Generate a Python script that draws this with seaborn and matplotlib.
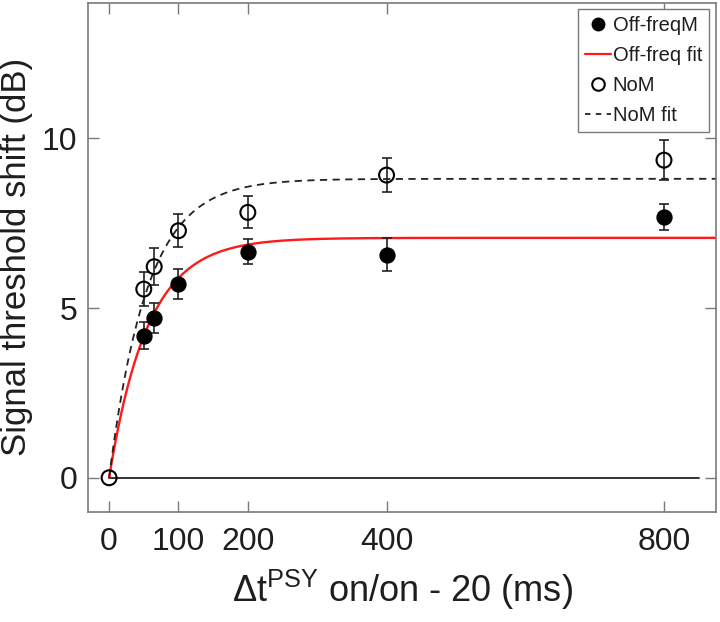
import numpy as np
import pandas as pd
import matplotlib
matplotlib.use("Agg")
import matplotlib.pyplot as plt
import seaborn as sns
from matplotlib.lines import Line2D

# ---- data ----
off_x = [50, 65, 100, 200, 400, 800]
off_y = [4.19, 4.71, 5.71, 6.66, 6.57, 7.69]
off_err = [0.41, 0.43, 0.43, 0.37, 0.49, 0.38]

nom_x = [0, 50, 65, 100, 200, 400, 800]
nom_y = [0.0, 5.56, 6.22, 7.28, 7.82, 8.92, 9.36]
nom_err = [0.0, 0.51, 0.54, 0.48, 0.47, 0.51, 0.58]

# exponential fit parameters (plateau in dB, time constant in ms)
fit_names = ["Off-freq fit", "NoM fit"]
fit_plateau = [7.07, 8.81]
fit_tau = [56.0, 55.0]

zero_line_x = [0, 850]
zero_line_y = [0, 0]

x_ticks = [0, 100, 200, 400, 800]
y_ticks = [0, 5, 10]

sns.set_theme(style="ticks")
plt.rcParams["font.family"] = ["Liberation Sans", "DejaVu Sans"]
plt.rcParams["mathtext.fontset"] = "custom"
plt.rcParams["mathtext.rm"] = "Liberation Sans"

fig = plt.figure(figsize=(7.2, 6.22), dpi=100)
ax = fig.add_axes([88.3 / 720, (622 - 511.7) / 622, (716 - 88.3) / 720, (511.7 - 2.7) / 622])

# zero line
sns.lineplot(x=zero_line_x, y=zero_line_y, ax=ax, color="#222222", lw=1.3, zorder=1)

# fit curves
xs = np.linspace(0, 880, 600)
fit_rows = []
for name, a, tau in zip(fit_names, fit_plateau, fit_tau):
    fit_rows.append(pd.DataFrame({"x": xs, "y": a * (1 - np.exp(-xs / tau)), "fit": name}))
fits = pd.concat(fit_rows)
sns.lineplot(data=fits[fits.fit == "Off-freq fit"], x="x", y="y", ax=ax,
             color="#ff1a1a", lw=1.7, zorder=2, legend=False)
sns.lineplot(data=fits[fits.fit == "NoM fit"], x="x", y="y", ax=ax,
             color="#222222", lw=1.3, zorder=2, legend=False,
             linestyle=(0, (4, 3)))

# error bars
ax.errorbar(off_x, off_y, yerr=off_err, fmt="none", ecolor="#222222",
            elinewidth=1.2, capsize=3.5, capthick=1.2, zorder=3)
nx = [x for x, e in zip(nom_x, nom_err) if e > 0]
ny = [y for y, e in zip(nom_y, nom_err) if e > 0]
ne = [e for e in nom_err if e > 0]
ax.errorbar(nx, ny, yerr=ne, fmt="none", ecolor="#222222",
            elinewidth=1.2, capsize=3.5, capthick=1.2, zorder=3)

# points
sns.scatterplot(x=off_x, y=off_y, ax=ax, marker="o", s=115, color="black",
                edgecolor="black", linewidth=1.0, zorder=4)
sns.scatterplot(x=nom_x, y=nom_y, ax=ax, marker="o", s=115, facecolor="none",
                edgecolor="black", linewidth=1.5, zorder=4)

ax.set_xlim(-30, 875)
ax.set_ylim(-1, 14)
ax.set_xticks(x_ticks)
ax.set_yticks(y_ticks)
ax.set_xticklabels([str(v) for v in x_ticks])
ax.set_yticklabels([str(v) for v in y_ticks])

spine_col = "#7a7a7a"
for s in ax.spines.values():
    s.set_visible(True)
    s.set_color(spine_col)
    s.set_linewidth(1.2)
ax.tick_params(axis="both", direction="in", length=8, width=1.0, color=spine_col,
               labelsize=23, labelcolor="#1e1e1e", pad=8,
               top=True, right=True)
ax.tick_params(axis="x", pad=11)

ax.set_xlabel(r"$\Delta$t$^{\mathrm{PSY}}$ on/on - 20 (ms)", fontsize=26,
              color="#1e1e1e", labelpad=8)
ax.set_ylabel("Signal threshold shift (dB)", fontsize=25, color="#1e1e1e", labelpad=6)

handles = [
    Line2D([], [], marker="o", linestyle="none", color="black", markersize=9),
    Line2D([], [], color="#ff1a1a", lw=1.6),
    Line2D([], [], marker="o", linestyle="none", markerfacecolor="none",
           markeredgecolor="black", markeredgewidth=1.5, markersize=9),
    Line2D([], [], color="#222222", lw=1.3, linestyle=(0, (3, 3))),
]
labels = ["Off-freqM", "Off-freq fit", "NoM", "NoM fit"]
leg = ax.legend(handles, labels, loc="upper right",
                bbox_to_anchor=(709.3 / 720, (622 - 9) / 622),
                bbox_transform=fig.transFigure, borderaxespad=0,
                fontsize=14.5, frameon=True, fancybox=False,
                handlelength=1.3, handletextpad=0.1, labelspacing=0.55,
                borderpad=0.35)
leg.get_frame().set_edgecolor("#7a7a7a")
leg.get_frame().set_linewidth(1.0)
leg.get_frame().set_alpha(1)
for t in leg.get_texts():
    t.set_color("#1e1e1e")

fig.savefig("out.png", dpi=100)
